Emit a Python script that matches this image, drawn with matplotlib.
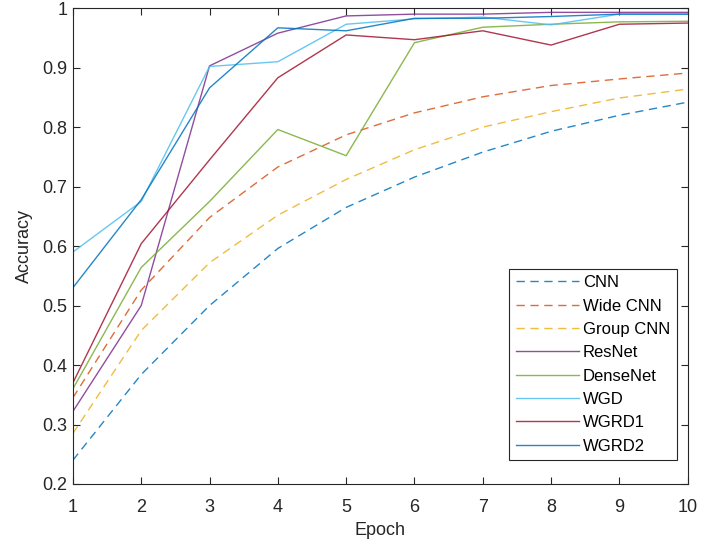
import matplotlib
matplotlib.use("Agg")
import matplotlib.pyplot as plt

plt.rcParams['font.family'] = ['Liberation Sans', 'DejaVu Sans']

epochs = [1, 2, 3, 4, 5, 6, 7, 8, 9, 10]

cnn = [0.240, 0.384, 0.500, 0.596, 0.665, 0.716, 0.758, 0.793, 0.820, 0.842]
wide_cnn = [0.345, 0.526, 0.648, 0.733, 0.787, 0.824, 0.851, 0.870, 0.881, 0.891]
group_cnn = [0.285, 0.458, 0.572, 0.652, 0.712, 0.762, 0.800, 0.826, 0.849, 0.864]
resnet = [0.322, 0.500, 0.903, 0.958, 0.987, 0.990, 0.990, 0.993, 0.993, 0.993]
densenet = [0.360, 0.564, 0.675, 0.796, 0.752, 0.942, 0.968, 0.973, 0.977, 0.978]
wgd = [0.590, 0.675, 0.902, 0.910, 0.973, 0.982, 0.985, 0.972, 0.990, 0.990]
wgrd1 = [0.370, 0.604, 0.745, 0.883, 0.955, 0.947, 0.962, 0.938, 0.973, 0.975]
wgrd2 = [0.530, 0.678, 0.866, 0.967, 0.962, 0.983, 0.983, 0.986, 0.990, 0.990]

labels = ['CNN', 'Wide CNN', 'Group CNN', 'ResNet', 'DenseNet', 'WGD', 'WGRD1', 'WGRD2']
series = [cnn, wide_cnn, group_cnn, resnet, densenet, wgd, wgrd1, wgrd2]
# matlab default line colours
colors = ['#0072BD', '#D95319', '#EDB120', '#7E2F8E', '#77AC30', '#4DBEEE', '#A2142F', '#0072BD']
styles = ['--', '--', '--', '-', '-', '-', '-', '-']

fig = plt.figure(figsize=(7.01, 5.46), dpi=100)
ax = fig.add_axes([0.104, 0.1136, 0.877, 0.8714])

for y, lab, c, ls in zip(series, labels, colors, styles):
    if ls == '--':
        ax.plot(epochs, y, ls, color=c, label=lab, linewidth=1.0, alpha=0.85, dashes=(6, 4))
    else:
        ax.plot(epochs, y, ls, color=c, label=lab, linewidth=1.0, alpha=0.85)

ax.set_xlim(1, 10)
ax.set_ylim(0.2, 1)
ax.set_xticks(epochs)
ax.set_yticks([0.2, 0.3, 0.4, 0.5, 0.6, 0.7, 0.8, 0.9, 1])
ax.set_yticklabels(['0.2', '0.3', '0.4', '0.5', '0.6', '0.7', '0.8', '0.9', '1'])
ax.tick_params(direction='in', top=True, right=True, length=5, width=0.8,
               colors='#262626', labelsize=13)
ax.tick_params(axis='x', pad=11)
ax.tick_params(axis='y', pad=4)
for sp in ax.spines.values():
    sp.set_color('#262626')
    sp.set_linewidth(0.8)

ax.set_xlabel('Epoch', fontsize=13, color='#262626', labelpad=4)
ax.set_ylabel('Accuracy', fontsize=13, color='#262626', labelpad=7)

leg = ax.legend(loc='lower right', bbox_to_anchor=(0.982, 0.05), borderaxespad=0,
                fontsize=12, handlelength=3.8, handletextpad=0.2, labelspacing=0.5,
                fancybox=False, framealpha=1, borderpad=0.4)
leg.get_frame().set_edgecolor('#262626')
leg.get_frame().set_linewidth(0.8)

fig.savefig('out.png', dpi=100)
